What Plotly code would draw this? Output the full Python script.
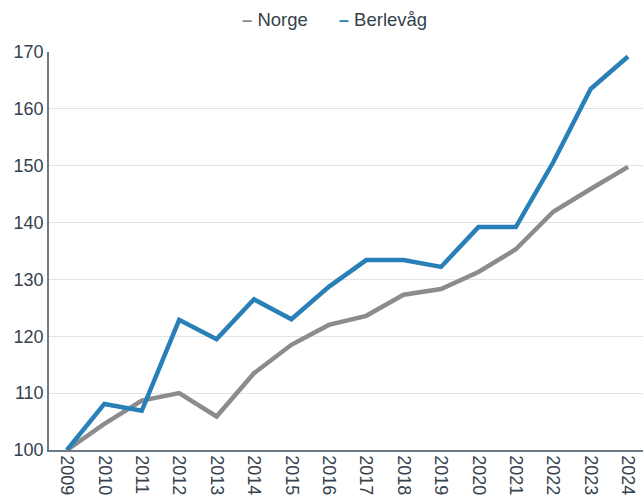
import plotly.graph_objects as go

years = list(range(2009, 2025))
norge = [100, 104.6, 108.7, 110.0, 105.9, 113.5, 118.5, 122.0, 123.6, 127.3,
         128.3, 131.3, 135.3, 141.9, 145.9, 149.8]
berlevag = [100, 108.1, 106.9, 122.9, 119.5, 126.5, 123.0, 128.7, 133.4, 133.4,
            132.2, 139.2, 139.2, 150.6, 163.5, 169.2]
year_labels = [str(y) for y in years]
y_ticks = [100, 110, 120, 130, 140, 150, 160, 170]

GREY = "#8c8c8c"
BLUE = "#2980b9"
TEXT = "#35424c"
FONT = "Liberation Sans, Arial, sans-serif"

fig = go.Figure()
fig.add_trace(go.Scatter(x=years, y=norge, name="Norge", mode="lines",
                         line=dict(color=GREY, width=4.5), showlegend=False))
fig.add_trace(go.Scatter(x=years, y=berlevag, name="Berlevåg", mode="lines",
                         line=dict(color=BLUE, width=4.5), showlegend=False))

# legend drawn as text with coloured dashes
fig.add_annotation(
    text=(f"<span style='color:{GREY}'><b>–</b></span> Norge"
          f"      <span style='color:{BLUE}'><b>–</b></span> Berlevåg"),
    xref="paper", yref="paper", x=0.48, y=1.0, yshift=33,
    xanchor="center", yanchor="middle", showarrow=False,
    font=dict(family=FONT, size=18.5, color=TEXT),
)

fig.update_layout(
    width=643, height=497,
    margin=dict(l=49, r=0, t=52, b=47),
    paper_bgcolor="white", plot_bgcolor="white",
    font=dict(family=FONT, size=18, color=TEXT),
    xaxis=dict(
        range=[2009 - 0.48, 2009 + 15.4],
        tickmode="array", tickvals=years, ticktext=year_labels,
        tickangle=90, showgrid=False, zeroline=False,
        showline=True, linecolor="#6b7a85", linewidth=1.5,
        ticks="", tickfont=dict(size=18, color=TEXT),
    ),
    yaxis=dict(
        range=[100, 170], tickmode="array", tickvals=y_ticks,
        showgrid=True, gridcolor="#dfe4e8", gridwidth=1.2, zeroline=False,
        showline=True, linecolor="#6b7a85", linewidth=1.5,
        ticks="", tickfont=dict(size=18, color=TEXT),
    ),
)

fig.write_html("out.html")
